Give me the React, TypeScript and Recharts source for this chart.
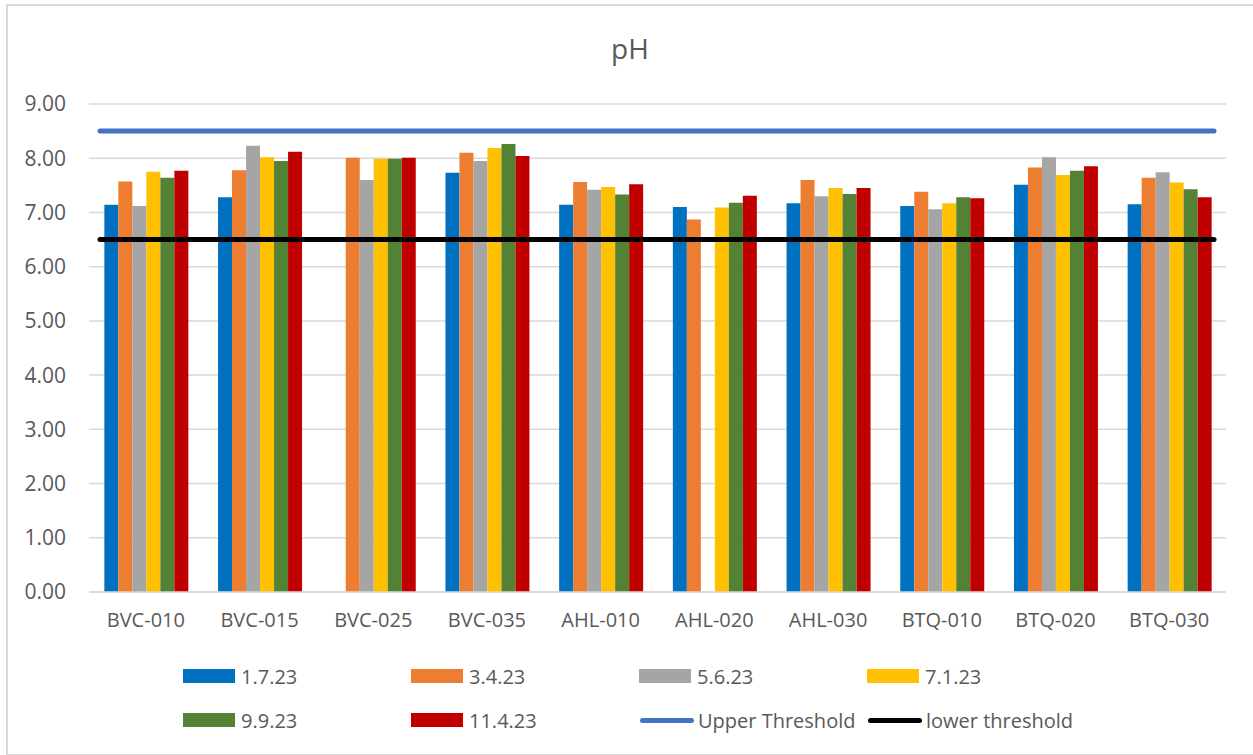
import React from 'react';
import { ComposedChart, Bar, XAxis, YAxis, CartesianGrid, ReferenceLine } from 'recharts';

const categories = ['BVC-010', 'BVC-015', 'BVC-025', 'BVC-035', 'AHL-010', 'AHL-020', 'AHL-030', 'BTQ-010', 'BTQ-020', 'BTQ-030'];
const seriesNames = ['1.7.23', '3.4.23', '5.6.23', '7.1.23', '9.9.23', '11.4.23'];
const seriesColors = ['#0070C0', '#ED7D31', '#A5A5A5', '#FFC000', '#548235', '#C00000'];
const s1 = [7.14, 7.28, null, 7.73, 7.14, 7.10, 7.17, 7.12, 7.51, 7.15];
const s2 = [7.57, 7.78, 8.01, 8.10, 7.56, 6.87, 7.60, 7.38, 7.83, 7.64];
const s3 = [7.12, 8.23, 7.60, 7.95, 7.42, null, 7.30, 7.06, 8.02, 7.74];
const s4 = [7.75, 8.02, 7.99, 8.19, 7.47, 7.09, 7.45, 7.17, 7.69, 7.55];
const s5 = [7.64, 7.95, 7.99, 8.26, 7.33, 7.18, 7.34, 7.28, 7.77, 7.43];
const s6 = [7.77, 8.12, 8.01, 8.04, 7.52, 7.31, 7.45, 7.26, 7.85, 7.28];
const seriesValues = [s1, s2, s3, s4, s5, s6];
const upperThreshold = 8.5;
const lowerThreshold = 6.5;
const lineNames = ['Upper Threshold', 'lower threshold'];
const lineColors = ['#4472C4', '#000000'];
const yTicks = [0, 1, 2, 3, 4, 5, 6, 7, 8, 9];

const data = categories.map((c, i) => {
  const row: any = { name: c };
  seriesNames.forEach((s, j) => {
    row[s] = seriesValues[j][i];
  });
  return row;
});

const FONT = "'Open Sans', sans-serif";
const TEXT = '#595959';

const thresholdShape = (color: string) => (p: any) => (
  <line x1={p.x1 + 11} y1={p.y1} x2={p.x2 - 12} y2={p.y2} stroke={color} strokeWidth={5} strokeLinecap="round" />
);

export default function App() {
  const legendItems = [
    ...seriesNames.map((n, i) => ({ name: n, color: seriesColors[i], type: 'bar' })),
    ...lineNames.map((n, i) => ({ name: n, color: lineColors[i], type: 'line' })),
  ];
  return (
    <div style={{ position: 'absolute', left: 0, top: 0, width: 1253, height: 755, background: '#fff', overflow: 'hidden', fontFamily: FONT }}>
      <div style={{ position: 'absolute', left: 6, top: 4, width: 1270, height: 748, borderLeft: '2px solid #d9d9d9', borderTop: '2px solid #d9d9d9', borderBottom: '2px solid #d9d9d9' }} />
      <div style={{ position: 'absolute', left: 530, width: 200, top: 29, textAlign: 'center', fontSize: 28, color: TEXT, lineHeight: '38px' }}>pH</div>
      <div style={{ position: 'absolute', left: 0, top: 0 }}>
        <ComposedChart width={1253} height={755} data={data} margin={{ top: 104, right: 27, bottom: 123, left: 0 }} barCategoryGap="13.5%" barGap={0}>
          <CartesianGrid vertical={false} stroke="#d9d9d9" strokeWidth={1.5} />
          <XAxis dataKey="name" height={40} axisLine={{ stroke: '#d9d9d9', strokeWidth: 1.5 }} tickLine={false} tickSize={0} tickMargin={21} tick={{ fontSize: 20, fill: TEXT, fontFamily: FONT }} interval={0} />
          <YAxis width={89} domain={[0, 9]} ticks={yTicks} axisLine={false} tickLine={false} tickSize={0} tickMargin={23} tick={{ fontSize: 21, fill: TEXT, fontFamily: FONT }} tickFormatter={(v: number) => v.toFixed(2)} />
          {seriesNames.map((s, i) => (
            <Bar key={s} dataKey={s} fill={seriesColors[i]} isAnimationActive={false} />
          ))}
          <ReferenceLine y={upperThreshold} shape={thresholdShape(lineColors[0])} />
          <ReferenceLine y={lowerThreshold} shape={thresholdShape(lineColors[1])} />
        </ComposedChart>
      </div>
      {legendItems.map((it, i) => {
        const col = i % 4;
        const row = Math.floor(i / 4);
        const left = 183 + col * 228;
        const cy = 676 + row * 44;
        return (
          <div key={it.name} style={{ position: 'absolute', left, top: cy - 15, height: 30, display: 'flex', alignItems: 'center', whiteSpace: 'nowrap' }}>
            {it.type === 'bar' ? (
              <div style={{ width: 52, height: 14, background: it.color }} />
            ) : (
              <div style={{ width: 54, height: 5, borderRadius: 3, background: it.color, marginLeft: 1 }} />
            )}
            <span style={{ marginLeft: it.type === 'bar' ? 6 : 4, fontSize: 20, color: TEXT }}>{it.name}</span>
          </div>
        );
      })}
    </div>
  );
}
